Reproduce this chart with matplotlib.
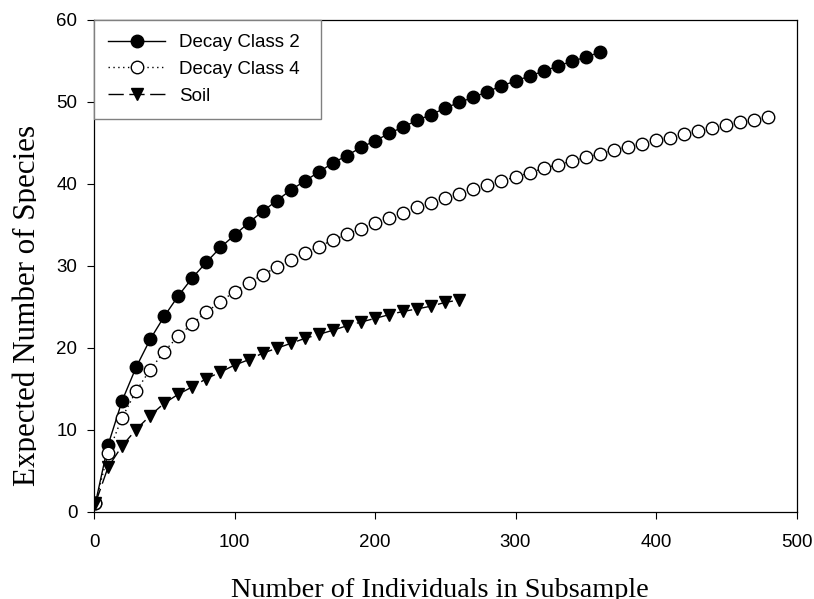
#!/usr/bin/env python3
import matplotlib.pyplot as plt
from matplotlib.transforms import Bbox, TransformedBbox

# subsample sizes (rarefaction steps)
n_sub = [1, 10, 20, 30, 40, 50, 60, 70, 80, 90, 100, 110, 120, 130, 140, 150,
         160, 170, 180, 190, 200, 210, 220, 230, 240, 250, 260, 270, 280, 290,
         300, 310, 320, 330, 340, 350, 360, 370, 380, 390, 400, 410, 420, 430,
         440, 450, 460, 470, 480]

# expected number of species
decay2 = [1.0, 8.1, 13.5, 17.6, 21.0, 23.8, 26.3, 28.5, 30.4, 32.2, 33.7, 35.2,
          36.6, 37.9, 39.2, 40.3, 41.4, 42.5, 43.4, 44.4, 45.2, 46.1, 46.9, 47.7,
          48.4, 49.2, 49.9, 50.5, 51.2, 51.9, 52.5, 53.1, 53.7, 54.3, 54.9, 55.4,
          56.0]
decay4 = [1.0, 7.1, 11.45, 14.7, 17.3, 19.5, 21.4, 22.9, 24.3, 25.6, 26.8, 27.9,
          28.85, 29.8, 30.7, 31.5, 32.3, 33.1, 33.8, 34.5, 35.2, 35.85, 36.4, 37.1,
          37.6, 38.2, 38.75, 39.3, 39.8, 40.3, 40.8, 41.3, 41.85, 42.3, 42.7, 43.2,
          43.6, 44.05, 44.5, 44.8, 45.3, 45.6, 46.0, 46.4, 46.8, 47.15, 47.5, 47.8,
          48.1]
soil = [1.0, 5.4, 8.0, 10.0, 11.7, 13.2, 14.3, 15.2, 16.2, 17.0, 17.85, 18.5,
        19.3, 19.9, 20.5, 21.1, 21.6, 22.1, 22.65, 23.1, 23.55, 24.0, 24.4, 24.7,
        25.05, 25.5, 25.8]

labels = ['Decay Class 2', 'Decay Class 4', 'Soil']

sans = 'Liberation Sans'
serif = 'Liberation Serif'

fig = plt.figure(figsize=(8.14, 5.99), dpi=100)
ax = fig.add_axes([94/814, 1 - 511.5/599, 702.5/814, 492/599])

ms = 9.0
ax.plot(n_sub[:len(decay2)], decay2, color='black', lw=1.0, ls='-',
        marker='o', ms=ms, mfc='black', mec='black', label=labels[0])
ax.plot(n_sub[:len(decay4)], decay4, color='black', lw=1.0, ls=(0, (1, 2.5)),
        marker='o', ms=ms, mfc='white', mec='black', mew=1.0, label=labels[1])
ax.plot(n_sub[:len(soil)], soil, color='black', lw=1.0, ls=(0, (11, 4)),
        marker='v', ms=ms, mfc='black', mec='black', label=labels[2])

ax.set_xlim(0, 500)
ax.set_ylim(0, 60)
ax.set_xticks([0, 100, 200, 300, 400, 500])
ax.set_yticks([0, 10, 20, 30, 40, 50, 60])
for s in ax.spines.values():
    s.set_linewidth(0.9)
ax.tick_params(direction='out', length=5, width=0.8, labelsize=13.5)
ax.tick_params(axis='x', pad=11)
ax.tick_params(axis='y', pad=7)
for t in ax.get_xticklabels() + ax.get_yticklabels():
    t.set_fontfamily(sans)

leg = ax.legend(loc='upper left', bbox_to_anchor=(0, 0, 227/702.5, 1),
                mode='expand', borderaxespad=0, frameon=True, fancybox=False,
                framealpha=1, edgecolor='#808080', handlelength=3.0,
                handletextpad=0.75, borderpad=0.77, labelspacing=0.52,
                prop={'family': sans, 'size': 13.5})
leg.get_frame().set_linewidth(1.0)

# axis titles, drawn on the figure so they sit at its edges
fig.text(440/814, 2/599, 'Number of Individuals in Subsample', family=serif,
         fontsize=20.3, ha='center', va='baseline')
ylab = fig.text(35.5/814, 1 - 305/599, 'Expected Number of Species', family=serif,
                fontsize=22.3, rotation=90, rotation_mode='anchor',
                ha='center', va='baseline')
ylab.set_clip_box(TransformedBbox(Bbox([[0, 0], [36/814, 1]]), fig.transFigure))

fig.savefig('out.png', dpi=100)
